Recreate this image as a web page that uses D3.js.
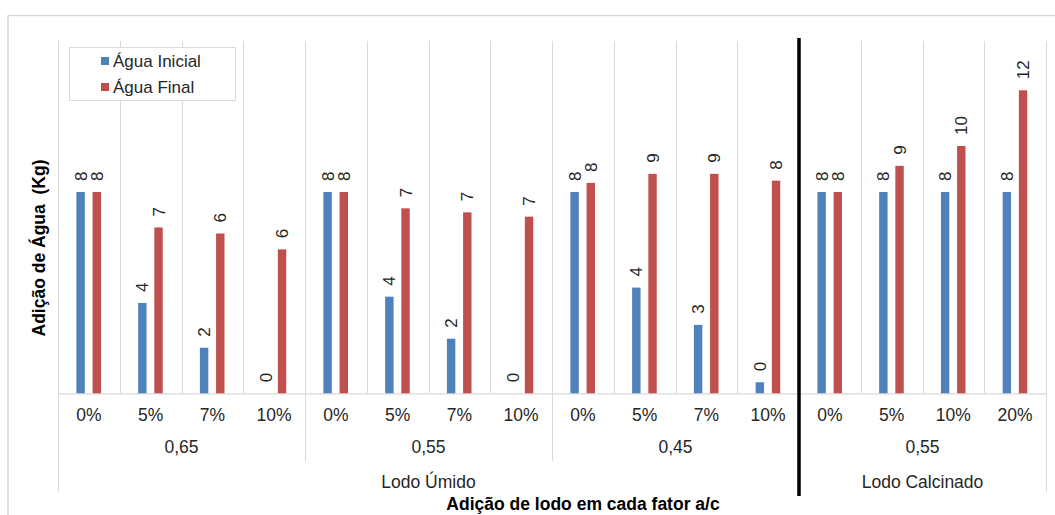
<!DOCTYPE html>
<html>
<head>
<meta charset="utf-8">
<script src="https://cdn.jsdelivr.net/npm/d3@7"></script>
<style>
  html, body { margin: 0; padding: 0; background: #fff; }
  svg { display: block; font-family: "Liberation Sans", Arial, sans-serif; }
</style>
</head>
<body>
<svg id="chart" width="1055" height="515"></svg>
<script>
// Percent of sludge added, per mix
const categories = [
  "0%", "5%", "7%", "10%",
  "0%", "5%", "7%", "10%",
  "0%", "5%", "7%", "10%",
  "0%", "5%", "10%", "20%"
];
// Water/cement factor groups (4 categories each)
const factorGroups = ["0,65", "0,55", "0,45", "0,55"];
// Sludge type groups (number of categories each)
const sludgeGroups = ["Lodo Úmido", "Lodo Calcinado"];
const sludgeGroupSizes = [12, 4];

const seriesNames = ["Água Inicial", "Água Final"];
const aguaInicial = [8, 3.59, 1.81, 0, 8, 3.84, 2.17, 0, 8, 4.2, 2.72, 0.44, 8, 8, 8, 8];
const aguaFinal   = [8, 6.59, 6.35, 5.72, 8, 7.35, 7.19, 7.02, 8.36, 8.72, 8.72, 8.45, 8, 9.04, 9.83, 12.04];

const colors = ["#4f81bd", "#c0504d"];
const gridColor = "#d9d9d9";
const textColor = "#262626";

const svg = d3.select("#chart");
const W = 1055, H = 515;
const plot = { left: 58, right: 1046, top: 41, bottom: 393.3 };

// chart frame
svg.append("line").attr("x1", 8).attr("x2", W).attr("y1", 15.5).attr("y2", 15.5)
  .attr("stroke", gridColor).attr("stroke-width", 1.5);
svg.append("line").attr("x1", 8).attr("x2", 8).attr("y1", 15).attr("y2", H)
  .attr("stroke", gridColor).attr("stroke-width", 1.5);

const idx = d3.range(categories.length);
const x = d3.scaleBand().domain(idx).range([plot.left, plot.right]).paddingInner(0).paddingOuter(0);
const xs = d3.scaleBand().domain(seriesNames).range([18.4, 43.0]).paddingInner(0.48);
const y = d3.scaleLinear().domain([0, 14]).range([plot.bottom, plot.top]);

// vertical gridlines between categories
const gridXs = d3.range(categories.length + 1).map(i => i < categories.length ? x(i) : plot.right);
svg.append("g").selectAll("line").data(gridXs).join("line")
  .attr("x1", d => Math.round(d) + 0.5).attr("x2", d => Math.round(d) + 0.5)
  .attr("y1", plot.top).attr("y2", plot.bottom)
  .attr("stroke", gridColor).attr("stroke-width", 1);

// category axis baseline
svg.append("line").attr("x1", plot.left).attr("x2", plot.right)
  .attr("y1", plot.bottom + 0.5).attr("y2", plot.bottom + 0.5)
  .attr("stroke", gridColor).attr("stroke-width", 1.2);

// bars
const rows = idx.map(i => ({ i, values: [aguaInicial[i], aguaFinal[i]] }));
const fmt = d3.format(".0f");
const barG = svg.append("g");
seriesNames.forEach((name, s) => {
  const g = barG.append("g");
  g.selectAll("rect").data(rows).join("rect")
    .attr("x", d => x(d.i) + xs(name))
    .attr("y", d => y(d.values[s]))
    .attr("width", xs.bandwidth())
    .attr("height", d => y(0) - y(d.values[s]))
    .attr("fill", colors[s]);
  // rotated value labels
  g.selectAll("text").data(rows).join("text")
    .attr("transform", d => {
      const cx = x(d.i) + xs(name) + xs.bandwidth() / 2 + 6;
      const cy = y(d.values[s]) - 11;
      return `translate(${cx},${cy}) rotate(-90)`;
    })
    .attr("text-anchor", "start")
    .attr("font-size", 17)
    .attr("fill", textColor)
    .text(d => fmt(d.values[s]));
});

// category axis: first level labels
svg.append("g").selectAll("text").data(idx).join("text")
  .attr("x", i => x(i) + x.bandwidth() / 2)
  .attr("y", 421)
  .attr("text-anchor", "middle")
  .attr("font-size", 17.5)
  .attr("fill", textColor)
  .text(i => categories[i]);

// second level: water/cement factor
const step = x.step();
const factorBounds = factorGroups.map((g, k) => [plot.left + k * 4 * step, plot.left + (k + 1) * 4 * step]);
svg.append("g").selectAll("text").data(factorGroups).join("text")
  .attr("x", (d, k) => (factorBounds[k][0] + factorBounds[k][1]) / 2)
  .attr("y", 453)
  .attr("text-anchor", "middle")
  .attr("font-size", 17.5)
  .attr("fill", textColor)
  .text(d => d);
// separators for second level
svg.append("g").selectAll("line").data(factorBounds.slice(0, -1).map(b => b[1])).join("line")
  .attr("x1", d => Math.round(d) + 0.5).attr("x2", d => Math.round(d) + 0.5)
  .attr("y1", plot.bottom).attr("y2", 461)
  .attr("stroke", gridColor).attr("stroke-width", 1);

// third level: sludge type
let acc = 0;
const sludgeBounds = sludgeGroupSizes.map(n => {
  const b = [plot.left + acc * step, plot.left + (acc + n) * step];
  acc += n;
  return b;
});
svg.append("g").selectAll("text").data(sludgeGroups).join("text")
  .attr("x", (d, k) => (sludgeBounds[k][0] + sludgeBounds[k][1]) / 2)
  .attr("y", 488)
  .attr("text-anchor", "middle")
  .attr("font-size", 17.5)
  .attr("fill", textColor)
  .text(d => d);
// outer edges of the category axis
[plot.left, plot.right].forEach(xx => {
  svg.append("line").attr("x1", xx + 0.5).attr("x2", xx + 0.5)
    .attr("y1", plot.bottom).attr("y2", 492)
    .attr("stroke", gridColor).attr("stroke-width", 1);
});

// heavy divider between wet and calcined sludge
const divX = sludgeBounds[0][1];
svg.append("line").attr("x1", divX).attr("x2", divX)
  .attr("y1", 38).attr("y2", 496)
  .attr("stroke", "#000").attr("stroke-width", 3.5);

// axis titles
svg.append("text")
  .attr("transform", "translate(45,248) rotate(-90)")
  .attr("text-anchor", "middle")
  .attr("font-size", 17.5)
  .attr("font-weight", "bold")
  .attr("fill", "#000")
  .style("white-space", "pre")
  .text("Adição de Água  (Kg)");
svg.append("text")
  .attr("x", 583).attr("y", 510)
  .attr("text-anchor", "middle")
  .attr("font-size", 17.5)
  .attr("font-weight", "bold")
  .attr("fill", "#000")
  .text("Adição de lodo em cada fator a/c");

// legend
const lg = svg.append("g");
lg.append("rect").attr("x", 69.5).attr("y", 47.5).attr("width", 166).attr("height", 53)
  .attr("fill", "#fff").attr("stroke", gridColor).attr("stroke-width", 1);
seriesNames.forEach((name, s) => {
  const cy = 61 + s * 26;
  lg.append("rect").attr("x", 101).attr("y", cy - 4).attr("width", 8).attr("height", 8)
    .attr("fill", colors[s]);
  lg.append("text").attr("x", 113).attr("y", cy + 6)
    .attr("font-size", 17).attr("fill", textColor).text(name);
});
</script>
</body>
</html>
